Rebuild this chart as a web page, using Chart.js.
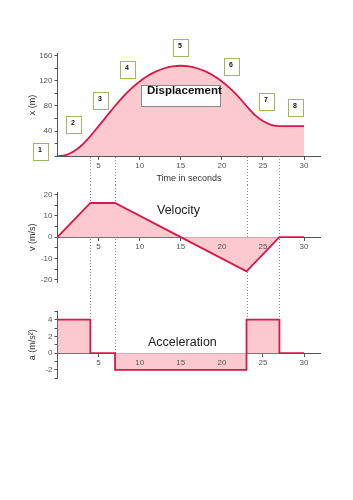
<!DOCTYPE html>
<html>
<head>
<meta charset="utf-8">
<title>Displacement, velocity, acceleration</title>
<script src="https://cdn.jsdelivr.net/npm/chart.js@4.4.0/dist/chart.umd.min.js"></script>
<style>
  html, body { margin: 0; padding: 0; background: #fff; }
  #page {
    position: relative;
    width: 353px;
    height: 500px;
    overflow: hidden;
    font-family: "Liberation Sans", Arial, sans-serif;
  }
  canvas { position: absolute; left: 0; }
  .step {
    position: absolute;
    box-sizing: border-box;
    width: 16px;
    height: 18px;
    border: 1.5px solid #9bbb59;
    background: #fff;
    font: bold 7px "Liberation Sans", Arial, sans-serif;
    color: #111;
  }
  .step span { position: absolute; left: 4px; top: 2px; }
  .plot-label {
    position: absolute;
    font-size: 12.5px;
    line-height: 14px;
    color: #222;
    white-space: nowrap;
  }
  #disp-box {
    position: absolute;
    left: 141px;
    top: 85px;
    width: 80px;
    height: 22px;
    box-sizing: border-box;
    border: 1px solid #8a8a8a;
    background: #fff;
  }
  #disp-text {
    position: absolute;
    left: 147px;
    top: 84px;
    font: bold 11.5px/12px "Liberation Sans", Arial, sans-serif;
    color: #111;
    white-space: nowrap;
  }
</style>
</head>
<body>
<div id="page">
  <canvas id="disp-chart" width="353" height="185" style="top:0px;width:353px;height:185px"></canvas>
  <canvas id="vel-chart" width="353" height="110" style="top:185px;width:353px;height:110px"></canvas>
  <canvas id="acc-chart" width="353" height="205" style="top:295px;width:353px;height:205px"></canvas>

  <div id="disp-box"></div>
  <div id="disp-text">Displacement</div>
  <div class="plot-label" style="left:157px;top:203px">Velocity</div>
  <div class="plot-label" style="left:148px;top:335px">Acceleration</div>

  <div class="step" style="left:33px;top:143px"><span>1</span></div>
  <div class="step" style="left:66px;top:116px"><span>2</span></div>
  <div class="step" style="left:93px;top:92px"><span>3</span></div>
  <div class="step" style="left:120px;top:61px"><span>4</span></div>
  <div class="step" style="left:173px;top:39px"><span>5</span></div>
  <div class="step" style="left:224px;top:58px"><span>6</span></div>
  <div class="step" style="left:259px;top:93px"><span>7</span></div>
  <div class="step" style="left:288px;top:99px"><span>8</span></div>
</div>

<script>
// Displacement x (m), read once per second
const dispTimes = [0, 1, 2, 3, 4, 5, 6, 7, 8, 9, 10, 11, 12, 13, 14, 15,
  16, 17, 18, 19, 20, 21, 22, 23, 24, 25, 26, 27, 28, 29, 30];
const dispValues = [0, 2, 8, 18, 32, 48, 64, 80, 95, 108, 119, 128, 135, 140, 143, 144,
  143, 140, 135, 128, 119, 108, 95, 80, 66, 56, 50, 48, 48, 48, 48];

// Velocity v (m/s), corner points of the polyline
const velTimes = [0, 4, 7, 15, 23, 27, 30];
const velValues = [0, 16, 16, 0, -16, 0, 0];

// Acceleration a (m/s^2), value holding from each time until the next one
const accTimes = [0, 4, 7, 23, 27, 30];
const accValues = [4, 0, -2, 4, 0, 0];

// Times where the dotted guide lines are drawn
const markerTimes = [4, 7, 23, 27];

// Tick labels
const timeTicks = [5, 10, 15, 20, 25, 30];
const dispTicks = [40, 80, 120, 160];
const velTicks = [-20, -10, 0, 10, 20];
const accTicks = [-2, 0, 2, 4];

const lineColor = "#d6194b";
const fillColor = "#fcc9ce";
const axisColor = "#555";
const fontFamily = "'Liberation Sans', Arial, sans-serif";

Chart.defaults.font.family = fontFamily;

function toPoints(xs, ys) {
  return xs.map((x, i) => ({ x: x, y: ys[i] }));
}

function timeAxis(showTitle) {
  return {
    type: "linear",
    min: 0,
    max: 32,
    position: { y: 0 },
    afterBuildTicks: (scale) => {
      scale.ticks = timeTicks.map((v) => ({ value: v }));
    },
    ticks: {
      color: axisColor,
      font: { size: 8 },
      padding: 2,
      maxRotation: 0,
      autoSkip: false,
      z: 1, // labels stay visible above the pink fill
    },
    grid: {
      display: true,
      drawOnChartArea: false,
      drawTicks: true,
      tickLength: 3,
      color: axisColor,
    },
    border: { display: true, color: axisColor, width: 1 },
    title: {
      display: showTitle,
      text: "Time in seconds",
      color: "#333",
      font: { size: 9 },
      padding: { top: 0, bottom: 0 },
    },
  };
}

function valueAxis(min, max, minorStep, labels, title) {
  return {
    type: "linear",
    min: min,
    max: max,
    position: "left",
    afterFit: (scale) => {
      scale.width = 57.5;
    },
    afterBuildTicks: (scale) => {
      const ticks = [];
      for (let v = Math.ceil(min / minorStep) * minorStep; v <= max; v += minorStep) {
        ticks.push({ value: v });
      }
      scale.ticks = ticks;
    },
    ticks: {
      color: axisColor,
      font: { size: 8 },
      padding: 2,
      autoSkip: false,
      callback: (value) => (labels.includes(value) ? String(value) : ""),
    },
    grid: {
      display: true,
      drawOnChartArea: false,
      drawTicks: true,
      tickLength: 3,
      color: axisColor,
    },
    border: { display: true, color: axisColor, width: 1 },
    title: {
      display: true,
      text: title,
      color: "#333",
      font: { size: 9 },
      padding: { top: 27, bottom: 0 },
    },
  };
}

// Dotted vertical guides; fromValue/toValue give the data value where a line
// starts or stops (null means the canvas edge)
function guidePlugin(fromValue, toValue) {
  return {
    id: "guideLines",
    beforeDatasetsDraw(chart) {
      const ctx = chart.ctx;
      const xs = chart.scales.x;
      const ys = chart.scales.y;
      ctx.save();
      ctx.strokeStyle = "#8a8a8a";
      ctx.lineWidth = 1;
      ctx.setLineDash([1, 2]);
      markerTimes.forEach((t) => {
        const px = Math.round(xs.getPixelForValue(t)) + 0.5;
        const top = fromValue ? ys.getPixelForValue(fromValue(t)) : 0;
        const bottom = toValue ? ys.getPixelForValue(toValue(t)) : chart.height;
        ctx.beginPath();
        ctx.moveTo(px, top);
        ctx.lineTo(px, bottom);
        ctx.stroke();
      });
      ctx.restore();
    },
  };
}

function baseOptions(padding, yAxis, showTimeTitle) {
  return {
    responsive: false,
    animation: false,
    layout: { padding: padding },
    scales: { x: timeAxis(showTimeTitle), y: yAxis },
    plugins: { legend: { display: false }, tooltip: { enabled: false } },
  };
}

// Displacement
new Chart(document.getElementById("disp-chart"), {
  type: "line",
  data: {
    datasets: [{
      data: toPoints(dispTimes, dispValues),
      borderColor: lineColor,
      backgroundColor: fillColor,
      borderWidth: 1.8,
      fill: "origin",
      cubicInterpolationMode: "monotone",
      pointRadius: 0,
    }],
  },
  options: baseOptions({ left: 0, right: 32.5, top: 53.8, bottom: 28.7 },
    valueAxis(0, 163, 20, dispTicks, "x (m)"), true),
  plugins: [guidePlugin((t) => dispValues[dispTimes.indexOf(t)], null)],
});

// Velocity
new Chart(document.getElementById("vel-chart"), {
  type: "line",
  data: {
    datasets: [{
      data: toPoints(velTimes, velValues),
      borderColor: lineColor,
      backgroundColor: fillColor,
      borderWidth: 1.8,
      fill: "origin",
      tension: 0,
      pointRadius: 0,
    }],
  },
  options: baseOptions({ left: 0, right: 32.5, top: 7.3, bottom: 13 },
    valueAxis(-21, 21, 5, velTicks, "v (m/s)"), false),
  plugins: [guidePlugin(null, null)],
});

// Acceleration
new Chart(document.getElementById("acc-chart"), {
  type: "line",
  data: {
    datasets: [{
      data: toPoints(accTimes, accValues),
      borderColor: lineColor,
      backgroundColor: fillColor,
      borderWidth: 1.8,
      fill: "origin",
      stepped: true,
      pointRadius: 0,
    }],
  },
  options: baseOptions({ left: 0, right: 32.5, top: 16.3, bottom: 121.7 },
    valueAxis(-3, 5, 1, accTicks, "a (m/s²)"), false),
  plugins: [guidePlugin(null, (t) => {
    const i = accTimes.indexOf(t);
    return Math.max(accValues[i - 1], accValues[i]);
  })],
});
</script>
</body>
</html>
